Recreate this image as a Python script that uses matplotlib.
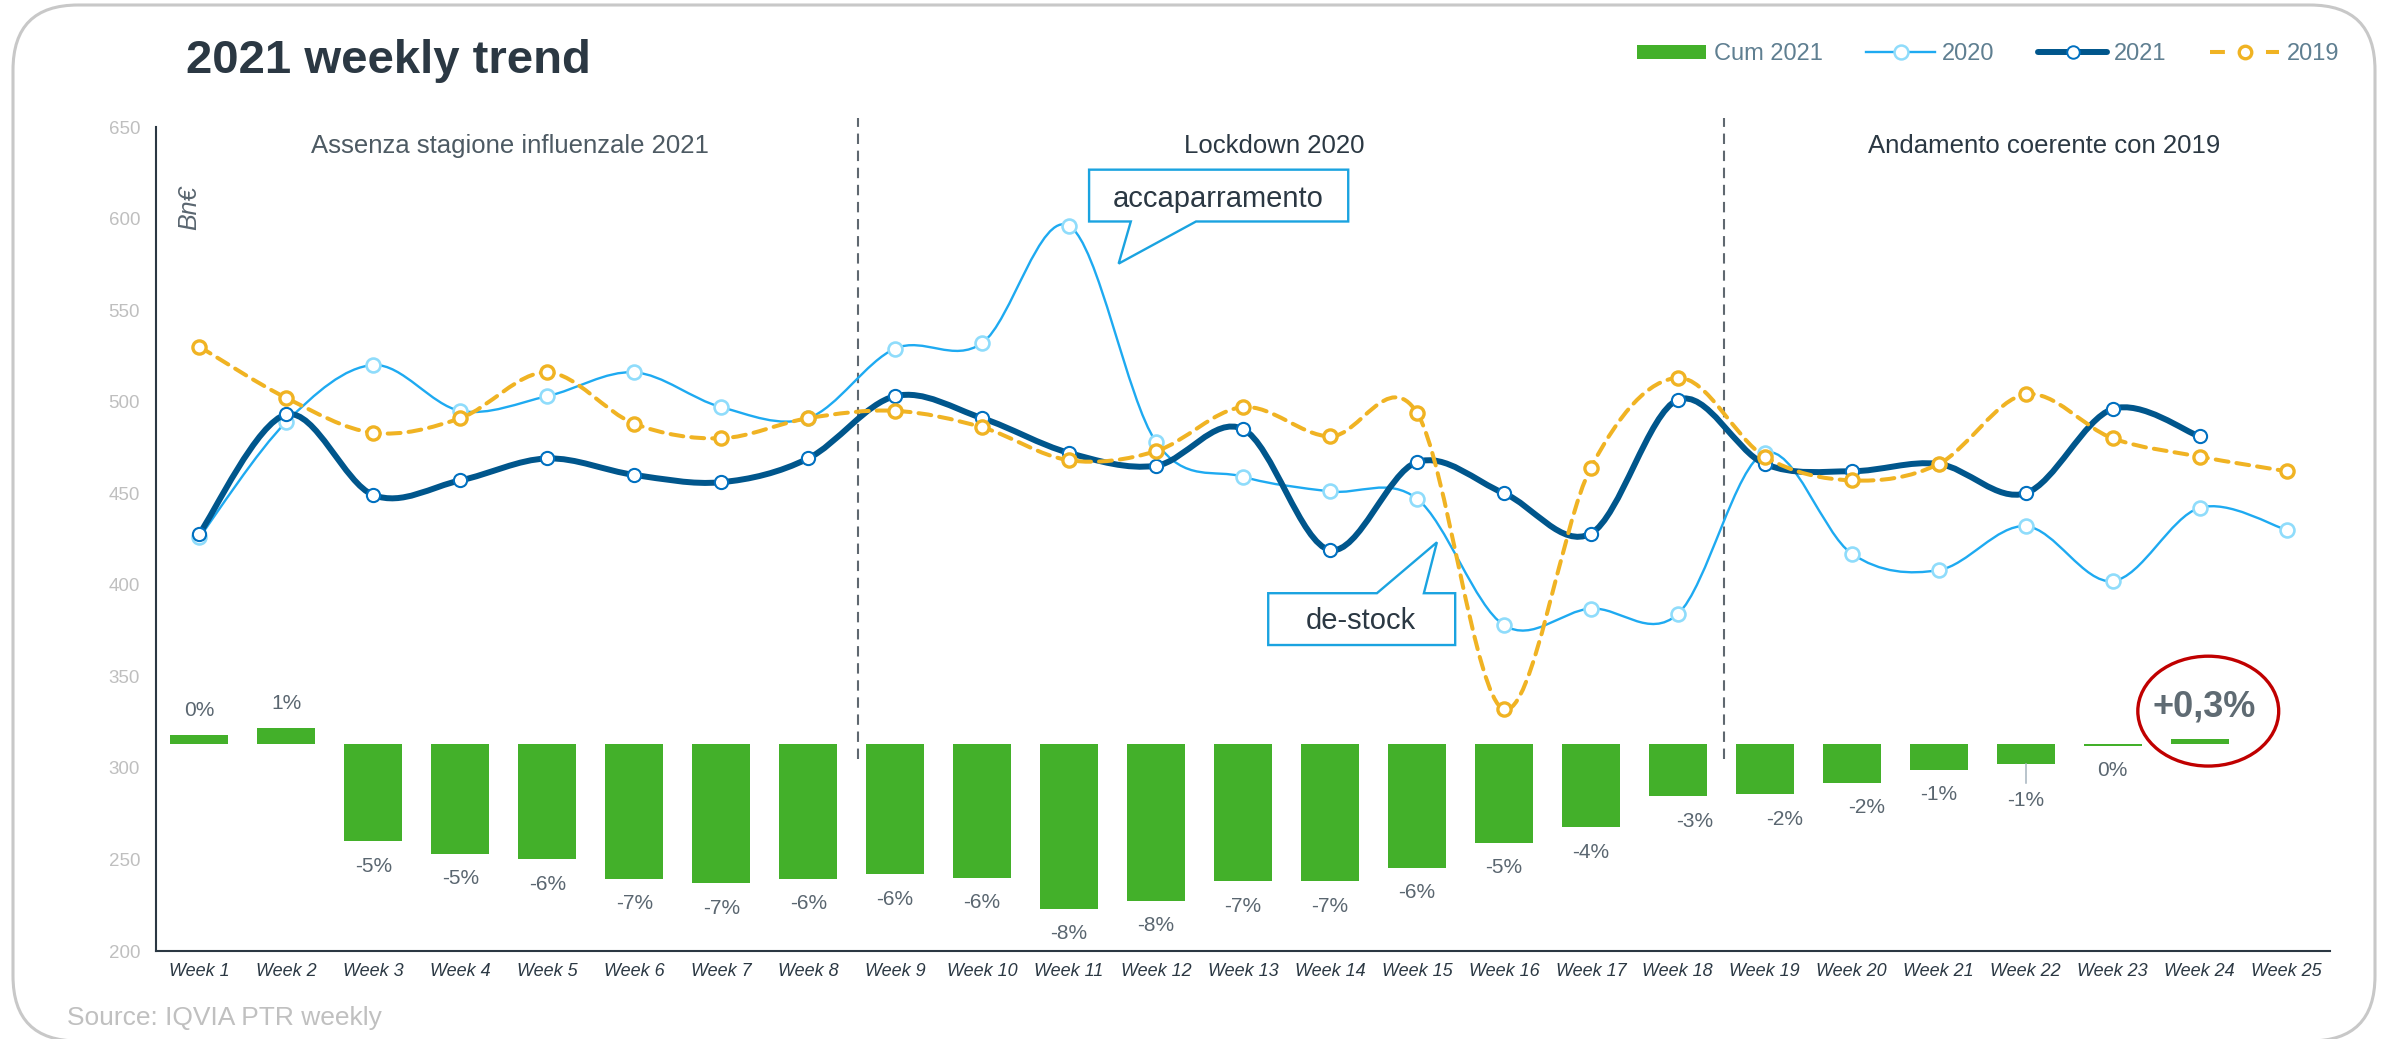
import numpy as np
import matplotlib
matplotlib.use("Agg")
import matplotlib.pyplot as plt
from matplotlib.path import Path
from matplotlib.patches import PathPatch, Polygon, Ellipse, FancyBboxPatch, Patch
from matplotlib.lines import Line2D
from matplotlib.transforms import IdentityTransform

plt.rcParams['font.family'] = ['Liberation Sans', 'DejaVu Sans']

# ---------------- data ----------------
week_labels = ["Week 1", "Week 2", "Week 3", "Week 4", "Week 5", "Week 6", "Week 7",
               "Week 8", "Week 9", "Week 10", "Week 11", "Week 12", "Week 13",
               "Week 14", "Week 15", "Week 16", "Week 17", "Week 18", "Week 19",
               "Week 20", "Week 21", "Week 22", "Week 23", "Week 24", "Week 25"]

sales_2020 = [426, 489, 520, 495, 503, 516, 497, 491, 529, 532, 596, 478, 459, 451,
              447, 378, 387, 384, 472, 417, 408, 432, 402, 442, 430]
sales_2021 = [428, 493, 449, 457, 469, 460, 456, 469, 503, 491, 472, 465, 485, 419,
              467, 450, 428, 501, 466, 462, 466, 450, 496, 481]
sales_2019 = [530, 502, 483, 491, 516, 488, 480, 491, 495, 486, 468, 473, 497, 481,
              494, 332, 464, 513, 470, 457, 466, 504, 480, 470, 462]

# cumulative 2021 bars: drawn from a common base down/up to the bar end
bar_base = 313
bar_end = [318, 322, 260, 253, 250, 239.5, 237, 239.5, 242, 240, 223, 227.5, 238, 238,
           245.5, 259, 267.5, 284.5, 285.5, 292, 299, 302, 312, 316]
bar_labels = ["0%", "1%", "-5%", "-5%", "-6%", "-7%", "-7%", "-6%", "-6%", "-6%", "-8%",
              "-8%", "-7%", "-7%", "-6%", "-5%", "-4%", "-3%", "-2%", "-2%", "-1%", "-1%",
              "0%", "+0,3%"]

yticks = [200, 250, 300, 350, 400, 450, 500, 550, 600, 650]

region_labels = ["Assenza stagione influenzale 2021", "Lockdown 2020", "Andamento coerente con 2019"]
region_x = [4.57, 13.36, 22.21]
dividers = [8.57, 18.53]

# ---------------- colours ----------------
C_GREEN = "#43b02a"
C_2020 = "#1eaaf1"
C_2020_M = "#8fdcfb"
C_2021 = "#00568c"
C_2021_M = "#0070c0"
C_2019 = "#f0b323"
C_DARK = "#2b3843"
C_LBL = "#5a6670"

W, H = 2387, 1039
fig = plt.figure(figsize=(W / 100, H / 100), dpi=100)
fig.patch.set_facecolor("white")
ax = fig.add_axes([156 / W, 1 - 951 / H, (2330 - 156) / W, (951 - 127) / H])

x_all = np.arange(1, len(week_labels) + 1)
ax.set_xlim(0.5, len(week_labels) + 0.5)
ax.set_ylim(200, 650)

for s in ["top", "right"]:
    ax.spines[s].set_visible(False)
for s in ["left", "bottom"]:
    ax.spines[s].set_color(C_DARK)
    ax.spines[s].set_linewidth(1.5)

ax.set_yticks(yticks)
ax.set_xticks(x_all)
ax.set_xticklabels(week_labels)
ax.tick_params(axis="y", length=0, pad=11.5, labelsize=13.5, labelcolor="#bfbfbf")
ax.tick_params(axis="x", length=0, pad=9, labelsize=13, labelcolor=C_DARK)
for lbl in ax.get_xticklabels():
    lbl.set_fontstyle("italic")

# ---------------- bars ----------------
xb = x_all[:len(bar_end)]
heights = [e - bar_base for e in bar_end]
ax.bar(xb, heights, bottom=bar_base, width=0.667, color=C_GREEN, zorder=2)

label_dy = {22: -26}
label_dx = {18: 12, 19: 14, 20: 11}
for i, (xx, e, lab) in enumerate(zip(xb, bar_end, bar_labels)):
    wk = i + 1
    if lab.startswith("+"):
        ax.annotate(lab, (xx, e), xytext=(3, 23), textcoords="offset points",
                    ha="center", va="center", fontsize=26, fontweight="bold",
                    color="#5f6b73", zorder=8)
        continue
    up = e >= bar_base
    dy = label_dy.get(wk, 17.5 if up else -18)
    dx = label_dx.get(wk, 0)
    ax.annotate(lab, (xx, e), xytext=(dx, dy), textcoords="offset points",
                ha="center", va="center", fontsize=15, color=C_LBL, zorder=8)
# leader line of the week 22 label
ax.plot([22, 22], [bar_end[21], bar_end[21] - 10], color="#a6b4bf", lw=1.1, zorder=2)


# ---------------- smoothed lines ----------------
def smooth_path(xs, ys):
    pts = np.column_stack([xs, ys]).astype(float)
    n = len(pts)
    verts = [pts[0]]
    codes = [Path.MOVETO]
    for i in range(n - 1):
        p0 = pts[i - 1] if i > 0 else pts[i]
        p1 = pts[i]
        p2 = pts[i + 1]
        p3 = pts[i + 2] if i + 2 < n else pts[i + 1]
        verts += [p1 + (p2 - p0) / 6.0, p2 - (p3 - p1) / 6.0, p2]
        codes += [Path.CURVE4] * 3
    return Path(verts, codes)


def draw_series(vals, color, lw, ls, mec, ms, mew, z):
    xs = x_all[:len(vals)]
    pp = PathPatch(smooth_path(xs, vals), facecolor="none", edgecolor=color, lw=lw,
                   linestyle=ls, zorder=z, capstyle="round", joinstyle="round")
    ax.add_patch(pp)
    ax.plot(xs, vals, ls="none", marker="o", ms=ms, mfc="white", mec=mec, mew=mew,
            zorder=z + 0.1)


draw_series(sales_2020, C_2020, 1.7, "-", C_2020_M, 10, 1.9, 3)
draw_series(sales_2021, C_2021, 4.3, "-", C_2021_M, 9.5, 1.5, 4)
draw_series(sales_2019, C_2019, 2.9, (0, (3.2, 2.0)), C_2019, 9.5, 2.4, 5)

# ---------------- dividers & region labels ----------------
for xd in dividers:
    ax.plot([xd, xd], [305, 655], color="#5f6870", lw=1.5, ls=(0, (5, 3.2)),
            clip_on=False, zorder=1)
region_colors = ["#4d5a63", C_DARK, C_DARK]
for xr, txt, c in zip(region_x, region_labels, region_colors):
    ax.text(xr, 639.7, txt, ha="center", va="center", fontsize=18.5, color=c)

# ---------------- callouts ----------------
callout_acc = [(11.23, 626.7), (14.21, 626.7), (14.21, 598.4), (12.46, 598.4),
               (11.57, 575.4), (11.71, 598.4), (11.23, 598.4)]
callout_des = [(13.29, 395.4), (14.54, 395.4), (15.23, 423.2), (15.08, 395.4),
               (15.44, 395.4), (15.44, 367.1), (13.29, 367.1)]
for verts in (callout_acc, callout_des):
    ax.add_patch(Polygon(verts, closed=True, facecolor="white", edgecolor="#1aa3e0",
                         lw=1.7, zorder=6, clip_on=False, joinstyle="miter"))
ax.text(12.71, 610.8, "accaparramento", ha="center", va="center", fontsize=21,
        color=C_DARK, zorder=7)
ax.text(14.35, 380.1, "de-stock", ha="center", va="center", fontsize=21,
        color=C_DARK, zorder=7)

# red circle around last cumulative value
ax.add_patch(Ellipse((24.10, 331.0), width=1.62, height=60, fill=False,
                     edgecolor="#c00000", lw=2.4, zorder=7, clip_on=False))

# ---------------- texts ----------------
fig.text(186 / W, 1 - 61 / H, "2021 weekly trend", fontsize=34, fontweight="bold",
         color=C_DARK, ha="left", va="center")
fig.text(189 / W, 1 - 208 / H, "Bn€", rotation=90, fontstyle="italic", fontsize=18,
         color=C_LBL, ha="center", va="center")
fig.text(67 / W, 1 - 1018 / H, "Source: IQVIA PTR weekly", fontsize=19,
         color="#c0c0c0", ha="left", va="center")

# ---------------- legend ----------------
handles = [
    Patch(facecolor=C_GREEN, edgecolor="none"),
    Line2D([], [], color=C_2020, lw=1.7, marker="o", ms=10, mfc="white", mec=C_2020_M, mew=1.8),
    Line2D([], [], color=C_2021, lw=4.3, marker="o", ms=9, mfc="white", mec=C_2021_M, mew=1.4,
           solid_capstyle="round"),
    Line2D([], [], color=C_2019, lw=2.9, ls=(0, (3.7, 10.2)), marker="o", ms=9, mfc="white",
           mec=C_2019, mew=2.4),
]
fig.legend(handles, ["Cum 2021", "2020", "2021", "2019"], loc="center right",
           bbox_to_anchor=(2339 / W, 1 - 54 / H), ncol=4, frameon=False, fontsize=17,
           handlelength=2.92, handleheight=0.55, handletextpad=0.3, columnspacing=1.85,
           borderpad=0, borderaxespad=0, labelcolor="#5f7f91")

# ---------------- rounded frame ----------------
frame = FancyBboxPatch((13, -2), 2362, 1036, boxstyle="round,pad=0,rounding_size=65",
                       transform=IdentityTransform(), fill=False, edgecolor="#c8c8c8",
                       lw=2.2)
fig.add_artist(frame)

fig.savefig("out.png", dpi=100, facecolor="white")
